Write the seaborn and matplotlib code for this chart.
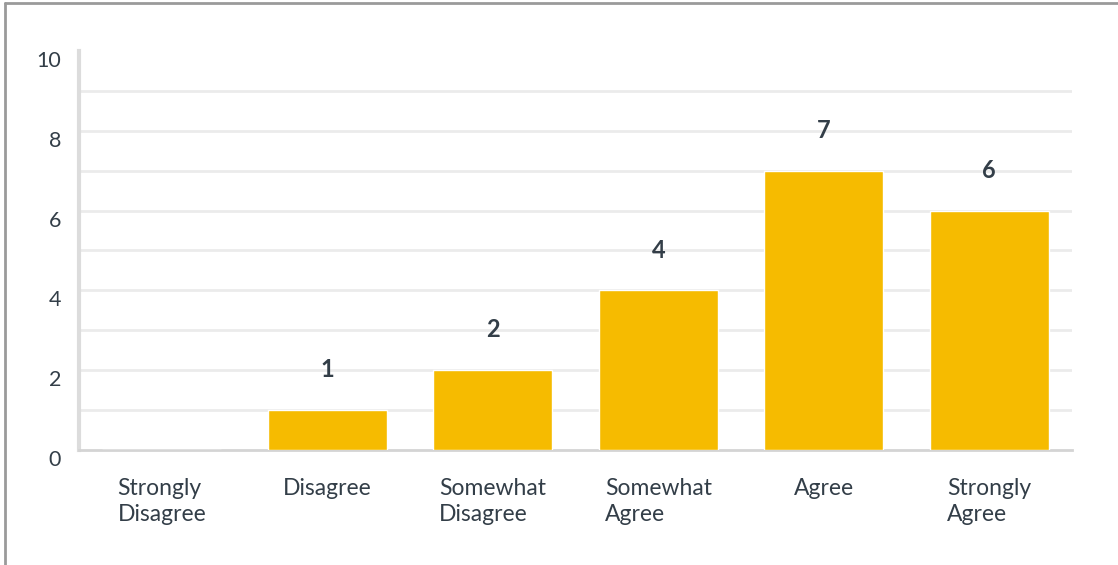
import matplotlib
matplotlib.use("Agg")
import matplotlib.pyplot as plt
from matplotlib.lines import Line2D
import seaborn as sns
import pandas as pd

categories = ["Strongly\nDisagree", "Disagree", "Somewhat\nDisagree",
              "Somewhat\nAgree", "Agree", "Strongly\nAgree"]
counts = [0, 1, 2, 4, 7, 6]
y_ticks = [0, 2, 4, 6, 8, 10]

BAR = "#F6BB00"
TEXT = "#333E48"

sns.set_theme(style="white")
plt.rcParams["font.family"] = ["Lato", "DejaVu Sans"]

df = pd.DataFrame({"answer": categories, "count": counts})

fig = plt.figure(figsize=(11.18, 5.65), dpi=100)
ax = fig.add_axes([79 / 1118, 115 / 565, 993 / 1118, 399 / 565])

sns.barplot(data=df, x="answer", y="count", color=BAR, width=0.72,
            saturation=1, ax=ax, zorder=3)

ax.set_xlim(-0.5, 5.5)
ax.set_ylim(0, 10)
ax.set_xlabel("")
ax.set_ylabel("")

# light grid every unit, labels every two
for v in range(1, 10):
    ax.axhline(v, color="#EBEBEB", lw=2, zorder=1)
ax.set_yticks(y_ticks)
ax.set_yticklabels([str(t) for t in y_ticks], fontsize=15.5, color=TEXT,
                   va="top")
ax.tick_params(axis="y", length=0, pad=13)
ax.tick_params(axis="x", length=0, pad=20)
for lab in ax.get_xticklabels():
    lab.set_fontsize(16.5)
    lab.set_color(TEXT)
    lab.set_multialignment("left")
    lab.set_linespacing(1.28)

for s in ["top", "right"]:
    ax.spines[s].set_visible(False)
ax.spines["left"].set_color("#DCDCDC")
ax.spines["left"].set_linewidth(3)
ax.spines["bottom"].set_color("#D4D4D4")
ax.spines["bottom"].set_linewidth(2)

for i, c in enumerate(counts):
    if c > 0:
        ax.text(i, c + 0.72, str(c), ha="center", va="bottom",
                fontsize=17, fontweight="bold", color=TEXT)

# outer frame
fig.add_artist(Line2D([5 / 1118, 5 / 1118], [0, 1 - 3 / 565],
                      transform=fig.transFigure, color="#9A9A9A", lw=2))
fig.add_artist(Line2D([5 / 1118, 1], [1 - 3 / 565, 1 - 3 / 565],
                      transform=fig.transFigure, color="#9A9A9A", lw=2))

fig.savefig("out.png", dpi=100)
